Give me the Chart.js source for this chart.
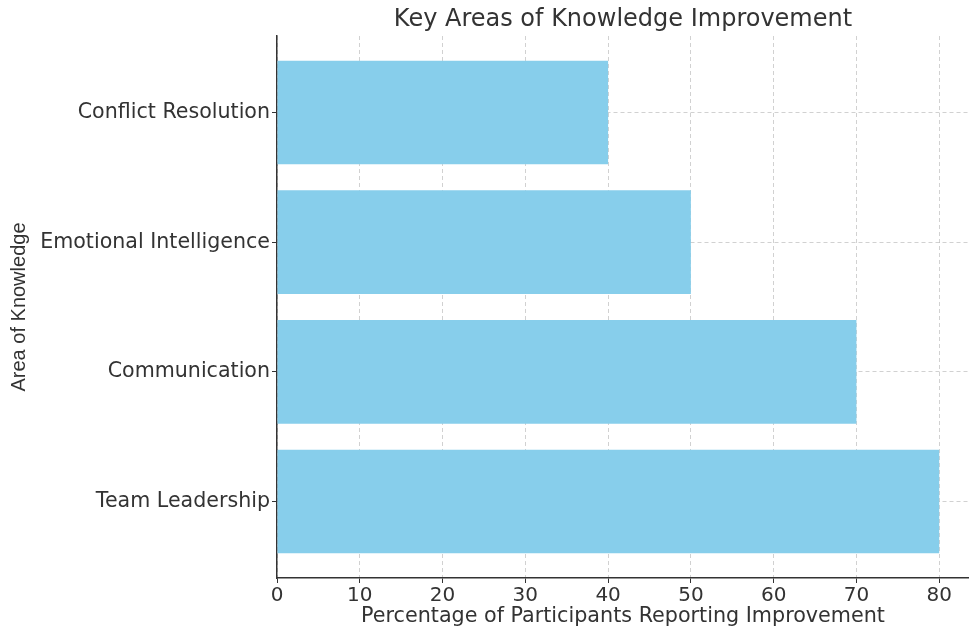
<!DOCTYPE html>
<html>
<head>
<meta charset="utf-8">
<title>Key Areas of Knowledge Improvement</title>
<script src="https://cdn.jsdelivr.net/npm/chart.js@4/dist/chart.umd.min.js"></script>
<style>
  html, body { margin: 0; padding: 0; background: #fff; }
  #wrap { width: 969px; height: 626px; }
</style>
</head>
<body>
<div id="wrap"><canvas id="chart" width="969" height="626"></canvas></div>
<script>
// bottom to top, like the original barh
const areas = ['Team Leadership', 'Communication', 'Emotional Intelligence', 'Conflict Resolution'];
const improvement = [80, 70, 50, 40];
const xTicks = [0, 10, 20, 30, 40, 50, 60, 70, 80];

const textColor = '#333333';
const gridColor = 'rgba(140,140,140,0.4)';
const dejavu = '"DejaVu Sans", sans-serif';

const ctx = document.getElementById('chart').getContext('2d');
new Chart(ctx, {
    type: 'bar',
    data: {
        datasets: [{
            data: areas.map((a, i) => ({ x: improvement[i], y: i })),
            backgroundColor: '#87CEEB',
            borderWidth: 0,
            categoryPercentage: 1,
            barPercentage: 0.8
        }]
    },
    options: {
        indexAxis: 'y',
        responsive: false,
        animation: false,
        devicePixelRatio: 1,
        layout: { padding: 0 },
        plugins: {
            legend: { display: false },
            tooltip: { enabled: false },
            title: {
                display: true,
                fullSize: false, // center over the plot area
                text: 'Key Areas of Knowledge Improvement',
                color: textColor,
                font: { family: dejavu, size: 24, weight: 'normal' },
                padding: { top: 5, bottom: 2.2 }
            }
        },
        scales: {
            x: {
                type: 'linear',
                min: 0,
                max: 83.6,
                z: 1,
                afterBuildTicks: s => { s.ticks = xTicks.map(v => ({ value: v })); },
                afterFit: s => { s.height = 48; },
                ticks: { color: textColor, font: { family: dejavu, size: 20 }, padding: 1, maxRotation: 0 },
                grid: { color: gridColor, lineWidth: 1, tickColor: textColor, tickLength: 5 },
                border: { display: true, color: textColor, width: 1.5, dash: [4, 3] },
                title: {
                    display: true,
                    text: 'Percentage of Participants Reporting Improvement',
                    color: textColor,
                    font: { family: dejavu, size: 20.7 },
                    padding: { top: 0, bottom: -3.5 }
                }
            },
            y: {
                type: 'linear',
                min: -0.59,
                max: 3.59,
                offset: false,
                z: 1,
                afterBuildTicks: s => { s.ticks = areas.map((a, i) => ({ value: i })); },
                afterFit: s => { s.width = 277; },
                ticks: { color: textColor, font: { family: dejavu, size: 20.6 }, padding: 2, callback: v => areas[v] },
                grid: { offset: false, color: gridColor, lineWidth: 1, tickColor: textColor, tickLength: 5 },
                border: { display: true, color: textColor, width: 1.5, dash: [4, 3] },
                title: {
                    display: true,
                    text: 'Area of Knowledge',
                    color: textColor,
                    font: { family: '"Liberation Sans", Arial, sans-serif', size: 20 },
                    padding: { top: 7, bottom: 0 }
                }
            }
        }
    }
});
</script>
</body>
</html>
